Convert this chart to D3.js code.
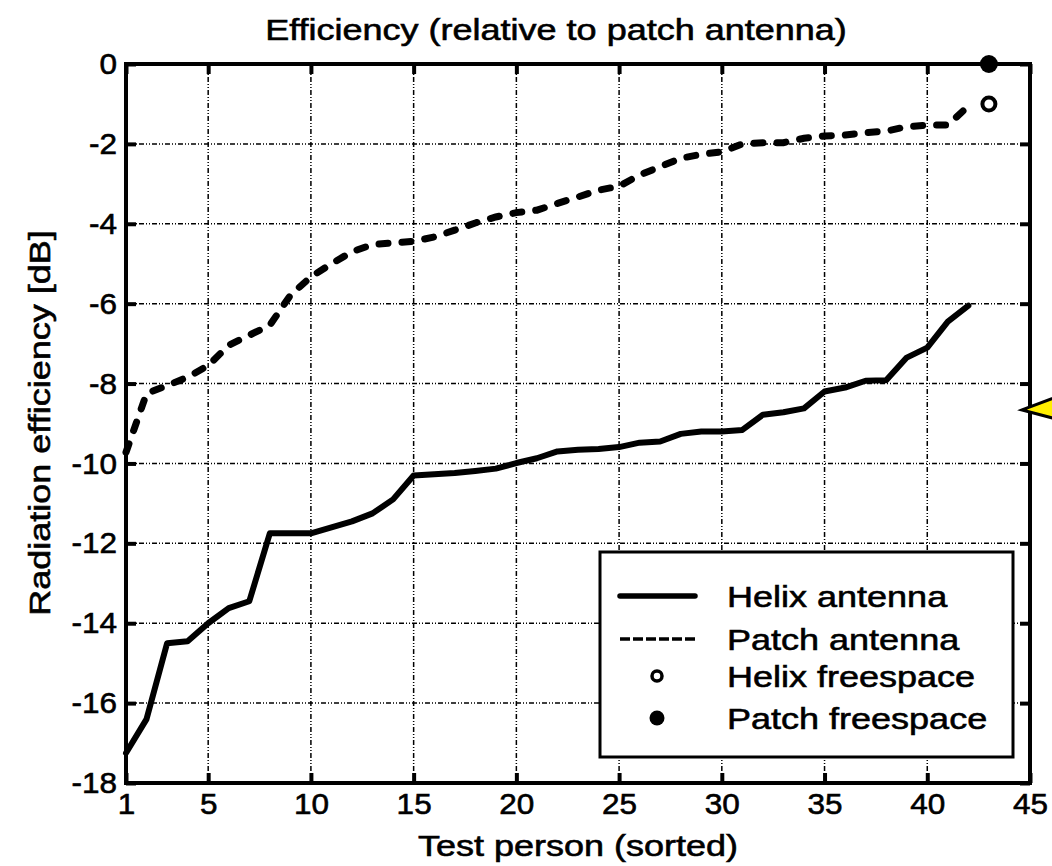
<!DOCTYPE html>
<html>
<head>
<meta charset="utf-8">
<script src="https://cdn.jsdelivr.net/npm/d3@7"></script>
<style>
  body { margin: 0; background: #fff; }
  text { font-family: "Liberation Sans", Arial, sans-serif; fill: #000; stroke: #000; stroke-width: 0.6px; }
</style>
</head>
<body>
<svg id="chart" width="1052" height="866"></svg>
<script>
// data
var persons = d3.range(1, 43);
var helix = [-17.25, -16.4, -14.5, -14.45, -14.0, -13.62, -13.45, -11.75, -11.75, -11.75,
             -11.6, -11.45, -11.25, -10.9, -10.3, -10.27, -10.24, -10.19, -10.13, -9.99,
             -9.87, -9.7, -9.66, -9.64, -9.59, -9.48, -9.45, -9.26, -9.2, -9.2,
             -9.16, -8.78, -8.72, -8.62, -8.2, -8.1, -7.93, -7.92, -7.35, -7.1,
             -6.45, -6.05];
var patch = [-9.72, -8.25, -8.05, -7.84, -7.55, -7.04, -6.79, -6.54, -5.79, -5.33,
             -5.0, -4.7, -4.52, -4.48, -4.44, -4.33, -4.16, -3.98, -3.83, -3.72,
             -3.66, -3.49, -3.33, -3.16, -3.06, -2.78, -2.57, -2.36, -2.26, -2.2,
             -2.0, -1.97, -1.97, -1.86, -1.8, -1.78, -1.72, -1.68, -1.57, -1.53,
             -1.53, -1.05];
var freespace = [{name: "helix", x: 43, y: -1}, {name: "patch", x: 43, y: 0}];
var xTicks = [1, 5, 10, 15, 20, 25, 30, 35, 40, 45];
var yTicks = [0, -2, -4, -6, -8, -10, -12, -14, -16, -18];
var legendLabels = ["Helix antenna", "Patch antenna", "Helix freespace", "Patch freespace"];

var svg = d3.select("#chart");
var x = d3.scaleLinear().domain([1, 45]).range([126, 1030]);
var y = d3.scaleLinear().domain([-18, 0]).range([783, 64]);
var FS = 30, K = 1.2;

// widen text like the original figure
function stretch(sel, k) {
  sel.each(function() {
    var w = this.getComputedTextLength();
    d3.select(this).attr("textLength", w * k).attr("lengthAdjust", "spacingAndGlyphs");
  });
}

// grid
var gridDash = "5,2,1,2,1,2";
svg.append("g").selectAll("line")
  .data(xTicks.slice(1, -1)).enter().append("line")
    .attr("x1", function(d) { return x(d); }).attr("x2", function(d) { return x(d); })
    .attr("y1", y(0)).attr("y2", y(-18))
    .attr("stroke", "#000").attr("stroke-width", 1.5).attr("stroke-dasharray", gridDash);
svg.append("g").selectAll("line")
  .data(yTicks.slice(1, -1)).enter().append("line")
    .attr("y1", function(d) { return y(d); }).attr("y2", function(d) { return y(d); })
    .attr("x1", x(1)).attr("x2", x(45))
    .attr("stroke", "#000").attr("stroke-width", 1.5).attr("stroke-dasharray", gridDash);

// lines
var line = d3.line()
  .x(function(d, i) { return x(persons[i]); })
  .y(function(d) { return y(d); });

svg.append("path").datum(helix)
  .attr("d", line).attr("fill", "none").attr("stroke", "#000")
  .attr("stroke-width", 6).attr("stroke-linejoin", "round").attr("stroke-linecap", "round");

svg.append("path").datum(patch)
  .attr("d", line).attr("fill", "none").attr("stroke", "#000")
  .attr("stroke-width", 7).attr("stroke-dasharray", "9,14").attr("stroke-linecap", "round");

// axes
var fmt = function(d) { return String(d); };
var xb = svg.append("g").attr("transform", "translate(0," + y(-18) + ")")
  .call(d3.axisBottom(x).tickValues(xTicks).tickFormat(fmt).tickSizeInner(-10).tickSizeOuter(0).tickPadding(10));
var xt = svg.append("g").attr("transform", "translate(0," + y(0) + ")")
  .call(d3.axisTop(x).tickValues(xTicks).tickSizeInner(-10).tickSizeOuter(0).tickFormat(""));
var yl = svg.append("g").attr("transform", "translate(" + x(1) + ",0)")
  .call(d3.axisLeft(y).tickValues(yTicks).tickFormat(fmt).tickSizeInner(-10).tickSizeOuter(0).tickPadding(9));
var yr = svg.append("g").attr("transform", "translate(" + x(45) + ",0)")
  .call(d3.axisRight(y).tickValues(yTicks).tickSizeInner(-10).tickSizeOuter(0).tickFormat(""));

[xb, xt, yl, yr].forEach(function(g) {
  g.select(".domain").remove();
  g.selectAll(".tick line").attr("stroke", "#000").attr("stroke-width", 4);
  g.selectAll("text").attr("font-size", FS).attr("font-family", "Liberation Sans, Arial, sans-serif");
});
stretch(xb.selectAll("text"), 1.05);
stretch(yl.selectAll("text"), 1.05);

// frame
svg.append("rect")
  .attr("x", x(1)).attr("y", y(0))
  .attr("width", x(45) - x(1)).attr("height", y(-18) - y(0))
  .attr("fill", "none").attr("stroke", "#000").attr("stroke-width", 4);

// freespace markers
svg.append("circle")
  .attr("cx", x(freespace[0].x)).attr("cy", y(freespace[0].y)).attr("r", 6.5)
  .attr("fill", "#fff").attr("stroke", "#000").attr("stroke-width", 4);
svg.append("circle")
  .attr("cx", x(freespace[1].x)).attr("cy", y(freespace[1].y)).attr("r", 9)
  .attr("fill", "#000");

// legend
var lg = svg.append("g").attr("transform", "translate(600,552)");
lg.append("rect").attr("width", 413).attr("height", 205)
  .attr("fill", "#fff").attr("stroke", "#000").attr("stroke-width", 3);
var rowY = [44, 87, 124, 166];
lg.append("line").attr("x1", 20).attr("x2", 95).attr("y1", rowY[0]).attr("y2", rowY[0])
  .attr("stroke", "#000").attr("stroke-width", 5.5).attr("stroke-linecap", "round");
lg.append("line").attr("x1", 20).attr("x2", 95).attr("y1", rowY[1]).attr("y2", rowY[1])
  .attr("stroke", "#000").attr("stroke-width", 3.5).attr("stroke-dasharray", "10,3");
lg.append("circle").attr("cx", 57).attr("cy", rowY[2]).attr("r", 5)
  .attr("fill", "#fff").attr("stroke", "#000").attr("stroke-width", 3.5);
lg.append("circle").attr("cx", 57).attr("cy", rowY[3]).attr("r", 7.5).attr("fill", "#000");
var lt = lg.selectAll("text.lab").data(legendLabels).enter().append("text")
  .attr("class", "lab")
  .attr("x", 127).attr("y", function(d, i) { return rowY[i] + 11; })
  .attr("font-size", FS)
  .text(function(d) { return d; });
stretch(lt, K);

// titles
var title = svg.append("text").attr("x", 556).attr("y", 40).attr("text-anchor", "middle")
  .attr("font-size", FS).text("Efficiency (relative to patch antenna)");
stretch(title, K);
var xlab = svg.append("text").attr("x", 578).attr("y", 856).attr("text-anchor", "middle")
  .attr("font-size", FS).text("Test person (sorted)");
stretch(xlab, K);
var ylab = svg.append("text").attr("transform", "translate(50,423) rotate(-90)")
  .attr("text-anchor", "middle").attr("font-size", FS).text("Radiation efficiency [dB]");
stretch(ylab, K);

// yellow pointer arrow cut by the right edge
var ay = y(-8.66), ax = x(45) - 8;
svg.append("path")
  .attr("d", "M" + ax + "," + ay + "L" + (ax + 45) + "," + (ay - 17) + "L" + (ax + 45) + "," + (ay + 12) + "Z")
  .attr("fill", "#ffee00").attr("stroke", "#000").attr("stroke-width", 3).attr("stroke-linejoin", "miter");
</script>
</body>
</html>
